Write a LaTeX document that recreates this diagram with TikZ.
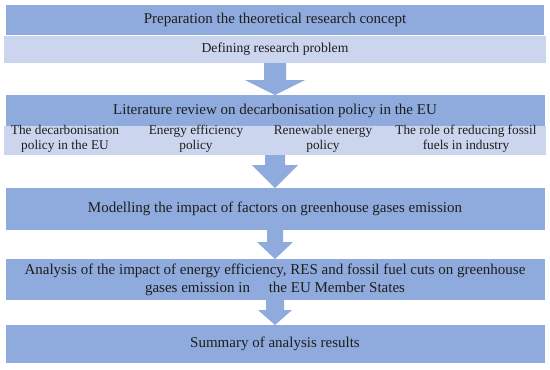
\documentclass[tikz,border=0pt]{standalone}
\usepackage{fontspec}
\setmainfont{Liberation Serif}
\usetikzlibrary{calc}
\definecolor{StepBlue}{HTML}{8FAADC}
\definecolor{StripBlue}{HTML}{CCD5EE}
\definecolor{InkText}{HTML}{1E1E1E}

% block arrow: from node, to node, half shaft, half head, head length
\newcommand{\flowarrow}[5]{%
  \fill[StepBlue] ($(#1.south)+(-#3,0)$) -- ($(#1.south)+(#3,0)$)
    -- ($(#2.north)+(#3,-#5)$) -- ($(#2.north)+(#4,-#5)$) -- (#2.north)
    -- ($(#2.north)+(-#4,-#5)$) -- ($(#2.north)+(-#3,-#5)$) -- cycle;}

\begin{document}
\begin{tikzpicture}[x=1pt,y=-1pt,
  stepbox/.style={fill=StepBlue,inner sep=0pt,outer sep=0pt,align=center,
    text=InkText,font=\fontsize{15}{18}\selectfont},
  stripbox/.style={fill=StripBlue,inner sep=0pt,outer sep=0pt,align=center,
    text=InkText,font=\fontsize{13.7}{15}\selectfont},
  subtext/.style={align=center,inner sep=0pt,text=InkText,
    font=\fontsize{13.3}{15}\selectfont}]
\useasboundingbox[fill=white] (0,0) rectangle (550,370);

\node[stepbox,minimum width=538pt,minimum height=30pt] (prep) at (275,20)
  {Preparation the theoretical research concept};
\node[stripbox,minimum width=542pt,minimum height=27pt] (defn) at (275,49.5)
  {Defining research problem};

\node[stepbox,minimum width=539pt,minimum height=31pt] (lit) at (275,110.5)
  {Literature review on decarbonisation policy in the EU};
\node[stripbox,minimum width=542pt,minimum height=29pt] (topics) at (275,140.5) {};
\node[subtext] (t1) at (65,139) {The decarbonisation\\policy in the EU};
\node[subtext] (t2) at (196,139) {Energy efficiency\\policy};
\node[subtext] (t3) at (323,139) {Renewable energy\\policy};
\node[subtext] (t4) at (466,139) {The role of reducing fossil\\fuels in industry};

\node[stepbox,minimum width=539pt,minimum height=42pt] (model) at (275,209)
  {Modelling the impact of factors on greenhouse gases emission};
\node[stepbox,minimum width=539pt,minimum height=41pt] (anal) at (275,279.5)
  {Analysis of the impact of energy efficiency, RES and fossil fuel cuts on greenhouse\\
   gases emission in\quad\ the EU Member States};
\node[stepbox,minimum width=539pt,minimum height=38pt] (summ) at (275,344)
  {Summary of analysis results};

\flowarrow{defn}{lit}{11}{30}{15}
\flowarrow{topics}{model}{10}{23}{23}
\flowarrow{model}{anal}{8}{18}{17}
\flowarrow{anal}{summ}{9}{17}{15}
\end{tikzpicture}
\end{document}
